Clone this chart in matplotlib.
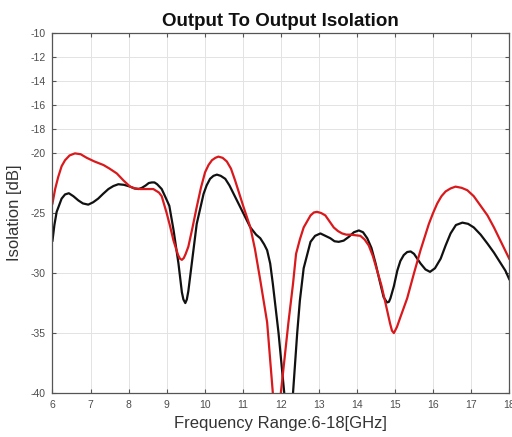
import matplotlib
matplotlib.use('Agg')
import matplotlib.pyplot as plt

plt.rcParams['font.family'] = ['Liberation Sans', 'DejaVu Sans']
plt.rcParams['axes.unicode_minus'] = False

# black trace
freq_black = [6.00, 6.05, 6.11, 6.24, 6.33, 6.43, 6.55, 6.68, 6.80, 6.94, 7.07, 7.20,
              7.33, 7.47, 7.60, 7.73, 7.88, 8.04, 8.15, 8.26, 8.35, 8.45, 8.53, 8.61,
              8.68, 8.75, 8.87, 9.00, 9.07, 9.18, 9.31, 9.40, 9.44, 9.49, 9.53, 9.57,
              9.66, 9.79, 9.97, 10.05, 10.14, 10.23, 10.32, 10.42, 10.54, 10.65, 10.76,
              10.98, 11.20, 11.35, 11.46, 11.56, 11.64, 11.72, 11.79, 11.94, 12.09, 12.15,
              12.20, 12.26, 12.32, 12.43, 12.50, 12.60, 12.78, 12.90, 13.04, 13.17, 13.30,
              13.41, 13.52, 13.65, 13.78, 13.92, 14.05, 14.16, 14.27, 14.38, 14.49, 14.60,
              14.70, 14.79, 14.84, 14.88, 14.97, 15.06, 15.14, 15.23, 15.32, 15.41, 15.50,
              15.67, 15.80, 15.92, 16.05, 16.20, 16.33, 16.46, 16.60, 16.77, 16.92, 17.07,
              17.25, 17.43, 17.60, 17.78, 17.90, 18.00]
iso_black = [-27.3, -26.0, -24.9, -23.8, -23.45, -23.35, -23.6, -23.95, -24.2, -24.3, -24.1, -23.8,
             -23.4, -23.0, -22.75, -22.6, -22.65, -22.8, -22.95, -23.0, -22.9, -22.7, -22.5, -22.45,
             -22.45, -22.6, -23.0, -23.9, -24.4, -26.4, -29.2, -31.6, -32.2, -32.5, -32.2, -31.5,
             -29.2, -25.9, -23.4, -22.7, -22.15, -21.9, -21.8, -21.9, -22.15, -22.7, -23.4,
             -24.8, -26.2, -26.8, -27.1, -27.6, -28.1, -29.2, -30.9, -35.0, -40.0, -42.5,
             -43.5, -42.5, -40.0, -35.0, -32.3, -29.6, -27.4, -26.9, -26.7, -26.9, -27.1,
             -27.35, -27.4, -27.3, -27.0, -26.6, -26.45, -26.6, -27.1, -27.9, -29.2, -30.7,
             -32.0, -32.45, -32.4, -32.1, -31.1, -29.8, -29.0, -28.5, -28.25, -28.2, -28.4,
             -29.2, -29.7, -29.9, -29.6, -28.8, -27.7, -26.7, -26.0, -25.8, -25.9, -26.2,
             -26.8, -27.55, -28.3, -29.2, -29.8, -30.5]

# red trace
freq_red = [6.00, 6.07, 6.15, 6.24, 6.33, 6.45, 6.59, 6.74, 6.90, 7.10, 7.34, 7.50,
            7.69, 7.87, 8.04, 8.17, 8.30, 8.48, 8.65, 8.80, 8.87, 9.00, 9.09, 9.18,
            9.30, 9.35, 9.40, 9.45, 9.50, 9.57, 9.68, 9.79, 9.90, 10.01, 10.10, 10.19,
            10.28, 10.36, 10.47, 10.58, 10.69, 10.80, 10.91, 11.02, 11.20, 11.32, 11.46,
            11.64, 11.79, 11.85, 11.90, 11.95, 12.00, 12.20, 12.32, 12.40, 12.50, 12.60,
            12.78, 12.87, 12.95, 13.06, 13.17, 13.28, 13.39, 13.50, 13.61, 13.72, 13.83,
            13.96, 14.09, 14.20, 14.31, 14.42, 14.53, 14.64, 14.75, 14.87, 14.92, 14.97,
            15.05, 15.15, 15.32, 15.50, 15.67, 15.78, 15.89, 16.00, 16.11, 16.22, 16.33,
            16.46, 16.59, 16.75, 16.90, 17.07, 17.25, 17.43, 17.60, 17.80, 18.00]
iso_red = [-24.2, -23.0, -22.0, -21.1, -20.6, -20.2, -20.03, -20.1, -20.4, -20.7, -21.0, -21.3,
           -21.7, -22.3, -22.8, -22.95, -23.0, -23.0, -23.0, -23.3, -23.6, -25.0, -26.1, -27.3,
           -28.5, -28.8, -28.9, -28.75, -28.4, -27.8, -26.2, -24.5, -22.9, -21.6, -21.0, -20.6,
           -20.4, -20.3, -20.4, -20.7, -21.3, -22.3, -23.4, -24.5, -26.2, -28.0, -30.6,
           -34.1, -40.0, -42.5, -43.5, -42.5, -40.0, -34.1, -30.9, -28.4, -27.2, -26.2,
           -25.2, -24.95, -24.9, -25.0, -25.2, -25.7, -26.2, -26.5, -26.7, -26.8, -26.8,
           -26.85, -26.9, -27.2, -27.7, -28.6, -29.8, -31.0, -32.5, -34.2, -34.8, -35.0,
           -34.5, -33.6, -32.1, -30.0, -28.1, -27.0, -25.9, -25.0, -24.2, -23.6, -23.2,
           -22.95, -22.8, -22.9, -23.1, -23.6, -24.4, -25.2, -26.2, -27.5, -28.8]

x_ticks = list(range(6, 19))
y_ticks = [-40, -35, -30, -25, -20, -18, -16, -14, -12, -10]

fig = plt.figure(figsize=(5.12, 4.37), dpi=100)
ax = fig.add_axes([0.1025, 0.1005, 0.892, 0.824])

ax.plot(freq_black, iso_black, color='#111111', lw=1.6)
ax.plot(freq_red, iso_red, color='#d9191c', lw=1.6)

ax.set_xlim(6, 18)
ax.set_ylim(-40, -10)
ax.set_xticks(x_ticks)
ax.set_yticks(y_ticks)
ax.grid(True, color='#e3e3e3', lw=0.7)
ax.set_axisbelow(True)
ax.tick_params(direction='in', top=True, right=True, length=3, width=0.8,
               labelsize=7.5, colors='#555555', labelcolor='#4d4d4d', pad=5)
for s in ax.spines.values():
    s.set_color('#555555')
    s.set_linewidth(0.9)

ax.set_title('Output To Output Isolation', fontsize=13.5, fontweight='bold', color='#111111', pad=5)
ax.set_xlabel('Frequency Range:6-18[GHz]', fontsize=12, color='#333333', labelpad=4)
ax.set_ylabel('Isolation [dB]', fontsize=12, color='#333333', labelpad=6)

fig.savefig('out.png', dpi=100)
